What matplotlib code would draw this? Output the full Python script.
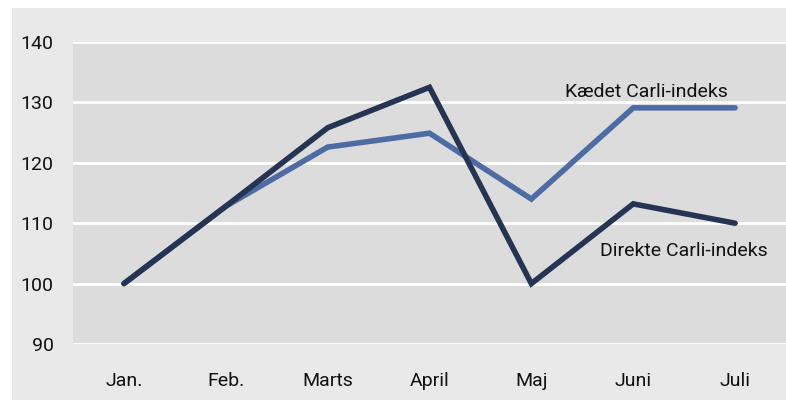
import matplotlib.pyplot as plt
from matplotlib.patches import Rectangle

months = ['Jan.', 'Feb.', 'Marts', 'April', 'Maj', 'Juni', 'Juli']
kaedet = [100, 112.8, 122.6, 124.9, 114.0, 129.1, 129.1]
direkte = [100, 112.8, 125.8, 132.5, 100, 113.2, 110.0]
yticks = [90, 100, 110, 120, 130, 140]

plt.rcParams['font.family'] = ['Roboto', 'DejaVu Sans']

fig = plt.figure(figsize=(7.86, 4.01), dpi=100)
fig.patch.set_facecolor('white')
# grey frame behind everything
fig.patches.append(Rectangle((12 / 786, 1 / 401), 1 - 12 / 786, 392 / 401,
                             transform=fig.transFigure, facecolor='#e9e9e9',
                             edgecolor='none', zorder=-10))

ax = fig.add_axes([73 / 786, 57 / 401, 1 - 73 / 786, 302 / 401])
ax.set_facecolor('#dcdcdc')
x = range(len(months))
ax.plot(x, kaedet, color='#4e6ca4', lw=4, solid_capstyle='round', solid_joinstyle='miter', zorder=3)
ax.plot(x, direkte, color='#243452', lw=4, solid_capstyle='round', solid_joinstyle='miter', zorder=4)

ax.set_xlim(-0.5, 6.5)
ax.set_ylim(90, 140)
ax.set_yticks(yticks)
ax.set_xticks(list(x))
ax.set_xticklabels(months)
ax.yaxis.grid(True, color='white', lw=2)
ax.set_axisbelow(True)
ax.tick_params(length=0, labelsize=14, colors='#111111')
ax.tick_params(axis='y', pad=14)
ax.tick_params(axis='x', pad=20)
for s in ax.spines.values():
    s.set_visible(False)

ax.text(4.33, 131.8, 'Kædet Carli-indeks', fontsize=14, va='center', ha='left', color='#111111')
ax.text(4.67, 105.4, 'Direkte Carli-indeks', fontsize=14, va='center', ha='left', color='#111111')

fig.savefig('out.png', dpi=100)
